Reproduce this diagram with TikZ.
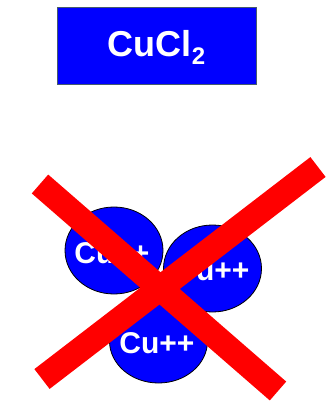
\documentclass[tikz,border=0pt]{standalone}
\usepackage{fontspec}
\setmainfont{Liberation Sans}
\usetikzlibrary{shapes.geometric}
\definecolor{pureblue}{RGB}{0,0,255}
\definecolor{purered}{RGB}{255,0,0}
\definecolor{edgegray}{RGB}{70,90,110}
\begin{document}
\begin{tikzpicture}[x=1pt,y=-1pt,
  ion/.style={ellipse, fill=pureblue, draw=black, line width=0.8pt, minimum width=98pt, minimum height=87pt, inner sep=0pt},
  iontext/.style={text=white, font=\bfseries\fontsize{30}{30}\selectfont, inner sep=0pt},
  bar/.style={draw=purered, line width=25pt, line cap=butt}]
\useasboundingbox (0,0) rectangle (334,401);
\node[fill=pureblue, draw=edgegray, line width=0.6pt, minimum width=199pt, minimum height=77pt, inner sep=0pt] (box) at (156.5,45.5) {};
\node[text=white, font=\bfseries\fontsize{36}{36}\selectfont, inner sep=0pt] (formula) at (156.5,47) {CuCl\raisebox{-8pt}{\fontsize{24}{24}\selectfont 2}};
\node[ion] (ion1) at (114,250.5) {};
\node[ion] (ion2) at (212.5,268.5) {};
\node[ion, minimum height=84pt] (ion3) at (158.5,341) {};
\node[iontext] (t1) at (112,253) {Cu++};
\node[iontext] (t2) at (212,270) {Cu++};
\node[iontext] (t3) at (157,343) {Cu++};
\coordinate (a1) at (40,184);
\coordinate (a2) at (278,391);
\coordinate (b1) at (318,167);
\coordinate (b2) at (42,379);
\draw[bar] (a1) -- (a2);
\draw[bar] (b1) -- (b2);
\end{tikzpicture}
\end{document}
